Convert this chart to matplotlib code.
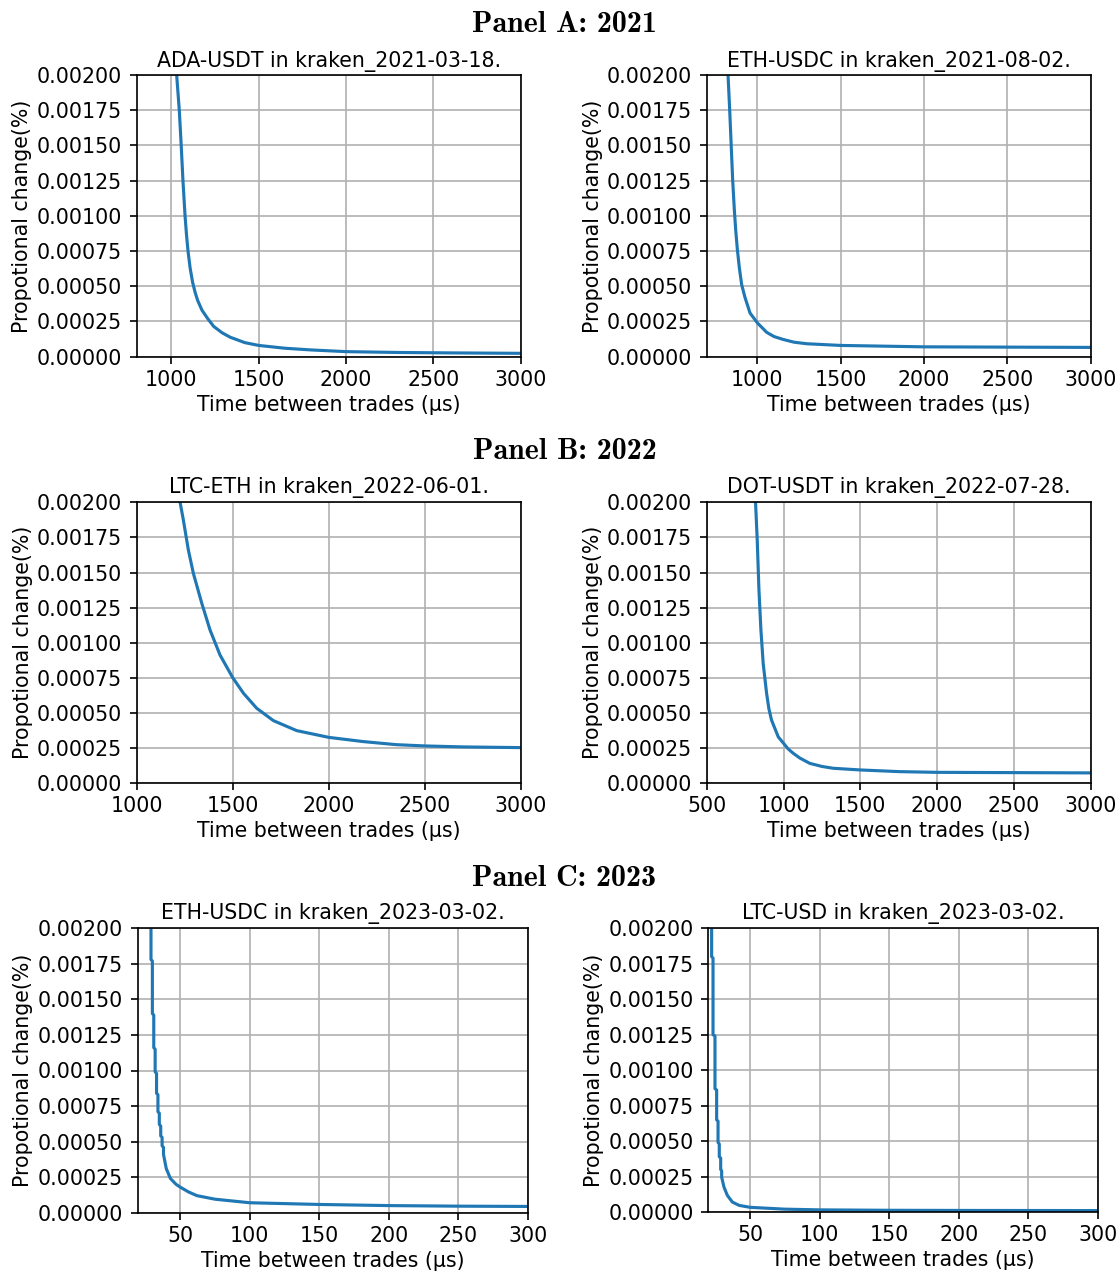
import matplotlib
matplotlib.use("Agg")
import matplotlib.pyplot as plt
from matplotlib.ticker import FormatStrFormatter, MultipleLocator

# ---------------- data ----------------
titles = ["ADA-USDT in kraken_2021-03-18.", "ETH-USDC in kraken_2021-08-02.",
          "LTC-ETH in kraken_2022-06-01.", "DOT-USDT in kraken_2022-07-28.",
          "ETH-USDC in kraken_2023-03-02.", "LTC-USD in kraken_2023-03-02."]
panel_titles = ["Panel A: 2021", "Panel B: 2022", "Panel C: 2023"]

ada21_x = [1030, 1045, 1056, 1066, 1078, 1086, 1095, 1107, 1121, 1135, 1150, 1175,
           1208, 1242, 1290, 1337, 1420, 1500, 1650, 1800, 2000, 2300, 2600, 3000]
ada21_y = [0.00200, 0.00175, 0.00150, 0.00125, 0.00100, 0.00087, 0.00075, 0.00063,
           0.00053, 0.00046, 0.00040, 0.00033, 0.00027, 0.000215, 0.00017, 0.000138,
           0.0001, 0.00008, 0.00006, 0.000048, 0.000036, 0.00003, 0.000027, 0.000024]

eth21_x = [824, 834, 843, 852, 862, 870, 880, 892, 906, 926, 956, 1000, 1056, 1100,
           1156, 1220, 1296, 1500, 2000, 2500, 3000]
eth21_y = [0.0020, 0.00175, 0.0015, 0.00125, 0.00104, 0.0009, 0.00076, 0.00063,
           0.00051, 0.00042, 0.00031, 0.00024, 0.000173, 0.000143, 0.000122, 0.000103,
           0.000092, 0.00008, 0.00007, 0.000068, 0.000066]

ltc22_x = [1226, 1243, 1269, 1295, 1339, 1382, 1434, 1500, 1556, 1625, 1712, 1833,
           2000, 2179, 2352, 2500, 2698, 3000]
ltc22_y = [0.0020, 0.001874, 0.001661, 0.001495, 0.001281, 0.001091, 0.000913,
           0.000752, 0.000641, 0.000534, 0.000446, 0.000375, 0.000327, 0.000297,
           0.000275, 0.000266, 0.000259, 0.000254]

dot22_x = [818, 829, 840, 853, 868, 890, 905, 922, 944, 966, 1000, 1030, 1063, 1106,
           1171, 1250, 1323, 1500, 1755, 2000, 2500, 3000]
dot22_y = [0.0020, 0.00173, 0.00138, 0.00109, 0.00085, 0.00064, 0.00053, 0.00045,
           0.00039, 0.00033, 0.000285, 0.000245, 0.000214, 0.00018, 0.000142, 0.00012,
           0.000107, 0.000095, 0.000083, 0.000078, 0.000076, 0.000074]

eth23_x = [29, 29, 30, 30, 31, 31, 32, 32, 33, 33, 34, 34, 35, 35, 36, 36, 37, 37, 38, 38,
           40, 43, 47, 50, 56, 62, 75, 100, 150, 200, 250, 300]
eth23_y = [0.00200, 0.00178, 0.00177, 0.00140, 0.00139, 0.00116, 0.00115, 0.00099,
           0.00098, 0.00084, 0.00083, 0.00071, 0.00070, 0.00062, 0.00061, 0.00054,
           0.00053, 0.00047, 0.00046, 0.00041, 0.00031, 0.00024, 0.00020, 0.00018,
           0.000146, 0.00012, 0.000095, 0.00007, 0.000058, 0.00005, 0.000046, 0.000044]

ltc23_x = [22.4, 22.4, 23.4, 23.4, 24.8, 24.8, 26.0, 26.0, 27.0, 27.0, 27.9, 27.9,
           28.9, 28.9, 29.6, 29.6, 31.3, 33.7, 37.3, 42.1, 50, 75, 100, 150, 200, 300]
ltc23_y = [0.00200, 0.00180, 0.00179, 0.00125, 0.00124, 0.00087, 0.00086, 0.00065,
           0.00064, 0.00049, 0.00048, 0.00039, 0.00038, 0.00030, 0.00029, 0.000246,
           0.000175, 0.000117, 0.0000702, 0.0000468, 0.000033, 0.00002, 0.000015,
           0.000012, 0.000011, 0.00001]

xs = [ada21_x, eth21_x, ltc22_x, dot22_x, eth23_x, ltc23_x]
ys = [ada21_y, eth21_y, ltc22_y, dot22_y, eth23_y, ltc23_y]
xlims = [(800, 3000), (696, 3000), (1000, 3000), (500, 3000), (19.3, 300), (20, 300)]
xsteps = [500, 500, 500, 500, 50, 50]

# ---------------- layout ----------------
W, H = 1120, 1272
DPI = 150
FS = 9.85
fig = plt.figure(figsize=(W / DPI, H / DPI), dpi=DPI)

boxes = [(136.5, 520.7, 75, 356.7), (706.7, 1090.7, 75, 356.7),
         (136.7, 520.7, 502.3, 783.3), (706.7, 1090.7, 502.3, 783.3),
         (137.5, 527.7, 928.3, 1212.7), (708.3, 1097.7, 928.3, 1212.0)]
title_pads = [3.8, 3.8, 4.5, 4.5, 4.5, 4.5]
panel_y = [25, 451, 878]

for i, (l, r, t, b) in enumerate(boxes):
    ax = fig.add_axes([l / W, 1 - b / H, (r - l) / W, (b - t) / H])
    ax.plot(xs[i], ys[i], color="#1f77b4", lw=1.5)
    ax.set_xlim(*xlims[i])
    ax.set_ylim(0, 0.002)
    ax.xaxis.set_major_locator(MultipleLocator(xsteps[i]))
    ax.yaxis.set_major_locator(MultipleLocator(0.00025))
    ax.yaxis.set_major_formatter(FormatStrFormatter("%.5f"))
    ax.tick_params(axis="both", labelsize=FS)
    ax.tick_params(axis="x", pad=2.8)
    ax.grid(True)
    ax.set_title(titles[i], fontsize=FS, pad=title_pads[i])
    ax.set_xlabel("Time between trades (µs)", fontsize=FS, labelpad=2.3)
    ax.set_ylabel("Propotional change(%)", fontsize=FS, labelpad=2.0)

for k, pt in enumerate(panel_titles):
    fig.text(564.5 / W, 1 - panel_y[k] / H, pt, ha="center", va="center",
             fontsize=14.4, family="cmb10")

fig.savefig("out.png", dpi=DPI)
